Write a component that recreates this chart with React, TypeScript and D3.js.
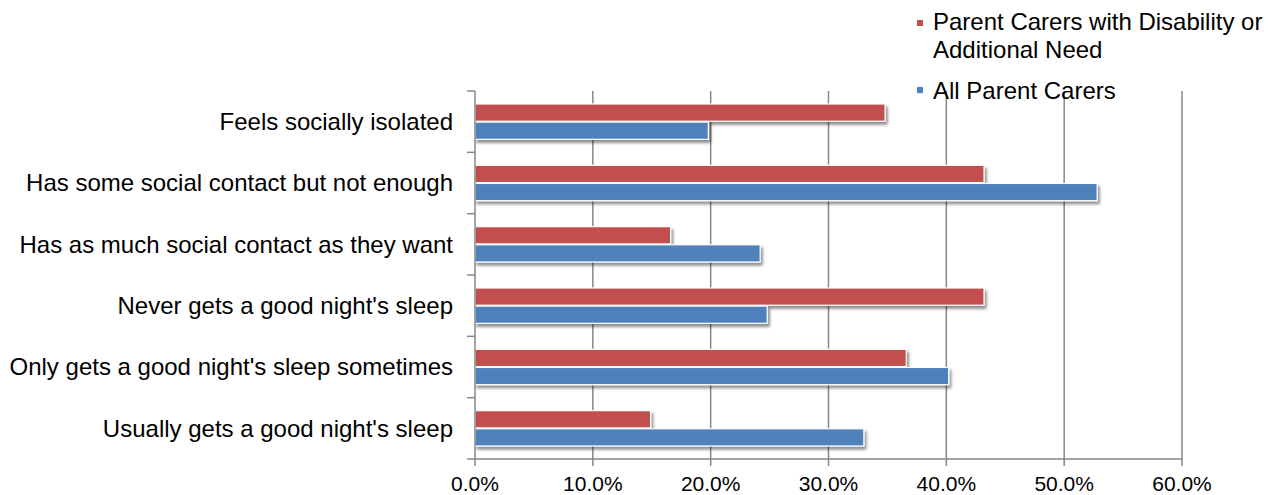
import React from "react";
import * as d3 from "d3";

const categories = [
  "Feels socially isolated",
  "Has some social contact but not enough",
  "Has as much social contact as they want",
  "Never gets a good night's sleep",
  "Only gets a good night's sleep sometimes",
  "Usually gets a good night's sleep",
];
const seriesNames = ["Parent Carers with Disability or Additional Need", "All Parent Carers"];
const disabilityValues = [34.8, 43.2, 16.6, 43.2, 36.6, 14.9];
const allValues = [19.8, 52.8, 24.2, 24.8, 40.2, 33.0];
const xTicks = [0, 10, 20, 30, 40, 50, 60];
const colors = ["#C0504D", "#4F81BD"];

const W = 1276;
const H = 495;
const left = 475;
const right = 1182;
const top = 91;
const bottom = 459;
const FONT = "'Liberation Sans', Arial, sans-serif";

export default function App() {
  const x = d3.scaleLinear().domain([0, 60]).range([left, right]);
  const y = d3.scaleBand<string>().domain(categories).range([top, bottom]).paddingInner(0).paddingOuter(0);
  const bw = y.bandwidth();
  const inner = d3.scaleBand<number>().domain([0, 1]).range([13, bw - 13]).paddingInner(0.05);
  const series = [disabilityValues, allValues];

  return (
    <svg width={W} height={H} style={{ position: "absolute", left: 0, top: 0, fontFamily: FONT }}>
      <defs>
        <filter id="sh" x="-5%" y="-50%" width="110%" height="250%">
          <feGaussianBlur in="SourceAlpha" stdDeviation="1.8" />
          <feOffset dx="2" dy="3" result="b" />
          <feComponentTransfer>
            <feFuncA type="linear" slope="0.45" />
          </feComponentTransfer>
          <feMerge>
            <feMergeNode />
            <feMergeNode in="SourceGraphic" />
          </feMerge>
        </filter>
      </defs>
      <rect width={W} height={H} fill="#fff" />
      {/* gridlines */}
      {xTicks.slice(1).map((t) => (
        <line key={t} x1={x(t)} x2={x(t)} y1={top} y2={bottom} stroke="#878787" strokeWidth={1.5} />
      ))}
      {/* bars */}
      {categories.map((c, i) =>
        series.map((vals, s) => (
          <rect
            key={c + s}
            x={x(0)}
            y={(y(c) as number) + (inner(s) as number)}
            width={x(vals[i]) - x(0)}
            height={inner.bandwidth()}
            fill={colors[s]}
            stroke="#fff"
            strokeWidth={1.2}
            filter="url(#sh)"
          />
        ))
      )}
      {/* axes */}
      <line x1={left} x2={left} y1={top} y2={bottom} stroke="#878787" strokeWidth={1.5} />
      <line x1={left} x2={right} y1={bottom} y2={bottom} stroke="#878787" strokeWidth={1.5} />
      {d3.range(categories.length + 1).map((k) => {
        const yy = top + k * bw;
        return <line key={k} x1={left - 8} x2={left} y1={yy} y2={yy} stroke="#878787" strokeWidth={1.5} />;
      })}
      {xTicks.map((t) => (
        <line key={t} x1={x(t)} x2={x(t)} y1={bottom} y2={bottom + 7} stroke="#878787" strokeWidth={1.5} />
      ))}
      {categories.map((c) => (
        <text key={c} x={453} y={(y(c) as number) + bw / 2} dy="0.35em" textAnchor="end" fontSize={24} fill="#000">
          {c}
        </text>
      ))}
      {xTicks.map((t) => (
        <text key={t} x={x(t)} y={491} textAnchor="middle" fontSize={21} fill="#000">
          {d3.format(".1f")(t) + "%"}
        </text>
      ))}
      {/* legend */}
      <rect x={917} y={20} width={6} height={6} fill={colors[0]} />
      <text x={933} y={30} fontSize={24} fill="#000">Parent Carers with Disability or</text>
      <text x={933} y={58} fontSize={24} fill="#000">Additional Need</text>
      <rect x={917} y={87} width={6} height={6} fill={colors[1]} />
      <text x={933} y={99} fontSize={24} fill="#000">{seriesNames[1]}</text>
    </svg>
  );
}
